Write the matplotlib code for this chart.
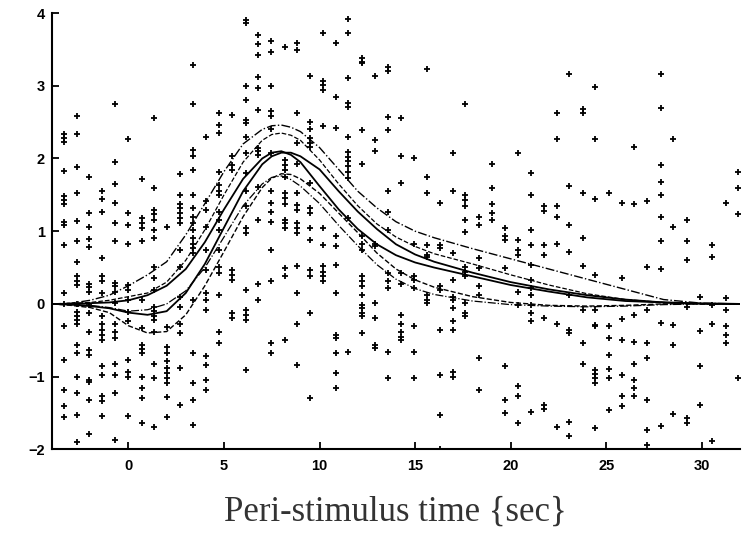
import numpy as np
import matplotlib
matplotlib.use("Agg")
import matplotlib.pyplot as plt

# Streupunkte: Spalten (Zeitpunkt) mit ihren Einzelwerten
col_x = [-3.37, -2.71, -2.06, -1.36, -0.70, 0.0, 0.70, 1.36, 2.03, 2.72, 3.37, 4.07,
         4.76, 5.43, 6.13, 6.77, 7.47, 8.17, 8.81, 9.51, 10.16, 10.85, 11.5, 12.2,
         12.9, 13.6, 14.24, 14.96, 15.6, 16.3, 16.98, 17.63, 18.34, 19.02, 19.72,
         20.38, 21.05, 21.74, 22.41, 23.07, 23.77, 24.43, 25.13, 25.81, 26.48,
         27.16, 27.85, 28.52, 29.21, 29.9, 30.56, 31.26, 31.9]
col_y = [
    [2.34, 2.28, 2.22, 1.83, 1.48, 1.43, 1.37, 1.13, 1.09, 0.81, 0.15, 0.0, -0.31, -0.77, -1.18, -1.41, -1.56],
    [2.59, 2.34, 1.88, 1.52, 1.14, 0.87, 0.57, 0.38, 0.32, 0.26, 0.0, -0.11, -0.17, -0.22, -0.27, -0.56, -0.68, -1.0, -1.23, -1.53, -1.90],
    [1.75, 1.25, 1.06, 0.89, 0.78, 0.28, 0.23, 0.17, -0.01, -0.13, -0.39, -0.64, -0.70, -1.04, -1.08, -1.32, -1.79],
    [1.55, 1.44, 1.27, 0.63, 0.38, 0.32, 0.15, -0.17, -0.27, -0.36, -0.43, -0.49, -0.85, -0.98, -1.27, -1.33, -1.54],
    [2.75, 1.95, 1.65, 1.39, 1.11, 0.87, 0.29, 0.24, 0.17, 0.01, -0.27, -0.39, -0.47, -0.82, -0.98, -1.23, -1.87],
    [2.27, 1.25, 1.09, 0.83, 0.26, 0.19, 0.06, -0.11, -0.24, -0.77, -0.93, -1.00, -1.54],
    [1.72, 1.18, 1.11, 1.04, 0.87, 0.06, -0.33, -0.56, -0.62, -0.68, -1.00, -1.16, -1.30, -1.64],
    [2.55, 1.60, 1.29, 1.24, 1.15, 1.02, 0.90, 0.51, 0.35, 0.19, -0.04, -0.10, -0.17, -0.22, -0.38, -0.82, -1.02, -1.69],
    [1.06, -0.32, -0.59, -0.67, -0.79, -0.88, -0.95, -1.02, -1.09, -1.28, -1.55],
    [1.79, 1.50, 1.38, 1.32, 1.25, 1.18, 1.11, 0.74, 0.51, 0.10, -0.04, -0.27, -0.40, -0.88, -1.39],
    [3.29, 2.75, 2.12, 2.03, 1.84, 1.50, 1.32, 1.20, 1.11, 1.02, 0.90, 0.83, 0.77, 0.70, 0.06, -0.68, -1.09, -1.32, -1.66],
    [2.30, 1.41, 1.29, 1.06, 0.74, 0.47, 0.15, 0.06, -0.08, -0.72, -0.84, -1.04, -1.18],
    [2.62, 2.46, 2.35, 1.82, 1.64, 1.55, 1.50, 1.27, 1.16, 1.02, 0.74, 0.51, 0.42, 0.12, -0.38, -0.54],
    [2.60, 2.03, 1.91, 1.84, 0.47, 0.40, 0.33, -0.13, -0.20],
    [3.91, 3.86, 2.99, 2.80, 2.53, 2.49, 2.30, 2.08, 1.80, 1.55, 1.34, 1.04, 0.97, 0.19, -0.08, -0.15, -0.22, -0.91],
    [3.70, 3.57, 3.42, 3.12, 2.97, 2.67, 2.14, 2.10, 2.05, 1.61, 1.15, 0.27, 0.06],
    [3.61, 3.46, 2.99, 2.65, 2.58, 2.40, 2.07, 1.55, 1.39, 1.27, 1.13, 0.74, 0.31, -0.54, -0.68],
    [3.54, 1.98, 1.91, 1.84, 1.75, 1.52, 1.45, 1.38, 1.16, 1.11, 1.04, 0.49, 0.38, -0.50],
    [3.59, 3.49, 2.62, 2.21, 1.93, 1.52, 1.36, 1.29, 1.11, 1.04, 0.97, 0.52, 0.15, -0.27, -0.84],
    [3.13, 2.50, 2.40, 2.28, 2.21, 2.16, 1.66, 1.32, 1.25, 1.04, 0.88, 0.47, 0.38, -0.13, -1.30],
    [3.72, 3.07, 3.01, 2.94, 2.44, 1.04, 0.81, 0.52, 0.44, 0.38, 0.31],
    [3.59, 2.84, 2.42, 0.93, 0.79, 0.54, 0.15, -0.43, -0.47, -0.67, -0.95, -1.16],
    [3.92, 3.73, 3.10, 2.76, 2.71, 2.29, 2.09, 2.02, 1.96, 1.89, 1.82, 1.73, 1.18, -0.66],
    [3.38, 3.33, 3.31, 2.39, 1.93, 0.93, 0.83, 0.74, 0.38, 0.31, 0.24, 0.12, -0.01, -0.06, -0.13, -0.17, -0.40],
    [3.13, 2.25, 2.10, 0.83, 0.79, 0.01, -0.20, -0.56, -0.61],
    [3.26, 3.20, 2.57, 2.39, 1.55, 1.27, 1.02, 0.42, 0.31, 0.22, -0.66, -1.02],
    [2.55, 2.03, 1.66, 0.42, 0.28, -0.15, -0.27, -0.38, -0.45, -0.50],
    [2.00, 0.83, 0.38, 0.33, 0.22, -0.31, -0.66, -1.02],
    [3.23, 1.75, 1.52, 0.81, 0.67, 0.65, 0.12, 0.06, 0.01],
    [1.39, 0.81, 0.77, 0.24, 0.19, -0.36, -0.98, -1.53, -1.99],
    [2.08, 1.55, 0.70, 0.33, 0.10, 0.06, -0.06, -0.24, -0.36, -0.93, -1.00],
    [2.75, 1.50, 1.43, 1.34, 1.16, 0.99, 0.51, 0.44, 0.38, 0.01, -0.13, -0.17],
    [1.20, 1.09, 0.63, 0.49, 0.24, 0.12, -0.75, -1.18],
    [1.93, 1.59, 1.38, 1.25, 1.16],
    [1.04, 0.93, 0.88, 0.49, -0.86, -1.32, -1.50],
    [2.08, 0.88, 0.74, 0.67, 0.17, -0.01, -1.13, -1.27, -1.64],
    [1.80, 1.50, 1.02, 0.81, 0.54, 0.33, 0.22, 0.12, -0.01, -0.13, -0.24, -1.48],
    [1.34, 1.28, 0.81, 0.67, -0.20, -1.39, -1.45],
    [2.62, 2.27, 1.34, 1.19, 0.83, -0.27, -1.69],
    [3.16, 1.62, 1.09, 0.71, 0.12, -0.36, -0.40, -1.62, -1.82],
    [2.68, 2.62, 1.52, 0.90, 0.52, -0.08, -0.54, -0.83],
    [2.98, 2.27, 1.44, 0.40, -0.08, -0.29, -0.31, -0.91, -0.96, -1.02, -1.09, -1.71],
    [1.53, -0.31, -0.47, -0.70, -0.90, -1.02, -1.46],
    [1.39, 0.35, -0.21, -0.50, -0.98, -1.27, -1.40],
    [2.16, 1.37, -0.15, -0.52, -0.82, -1.05, -1.16, -1.27],
    [1.41, 0.51, -0.08, -0.54, -0.75, -1.32, -1.73, -1.94],
    [3.16, 2.69, 1.91, 1.68, 1.50, 1.19, 0.87, 0.48, -0.26, -1.68],
    [2.27, 1.06, -0.29, -0.56, -1.51],
    [1.16, 0.87, 0.61, -0.04, -1.57, -1.64],
    [0.10, -0.37, -0.85, -1.39],
    [0.81, 0.65, -0.01, -0.27, -1.89],
    [1.39, 0.08, -0.08, -0.31, -0.43, -0.54],
    [1.81, 1.59, 1.24, -1.02],
]

# Angepasste Antworten und Konfidenzgrenzen
t_fit = [-4, -3, -2, -1, 0, 1, 2, 3, 4, 5, 6, 7, 7.5, 8, 8.5, 9, 10, 11, 12, 13, 14,
         15, 16, 18, 20, 22, 24, 26, 28, 30, 32]
fit_early = [0, 0, 0.01, 0.02, 0.05, 0.12, 0.25, 0.48, 0.85, 1.3, 1.72, 2.0, 2.08, 2.1,
             2.05, 1.95, 1.62, 1.3, 1.03, 0.82, 0.67, 0.57, 0.5, 0.38, 0.26, 0.17, 0.09,
             0.04, 0.02, 0.005, 0]
fit_late = [0, -0.01, -0.03, -0.06, -0.12, -0.15, -0.1, 0.15, 0.55, 1.05, 1.55, 1.92,
            2.03, 2.08, 2.08, 2.03, 1.85, 1.55, 1.27, 1.03, 0.82, 0.68, 0.58, 0.43, 0.3,
            0.2, 0.12, 0.06, 0.02, 0.005, 0]
ci_upper_outer = [0, 0.01, 0.05, 0.12, 0.25, 0.4, 0.58, 0.95, 1.38, 1.82, 2.2, 2.4, 2.45,
                  2.46, 2.43, 2.37, 2.15, 1.85, 1.55, 1.32, 1.13, 1.0, 0.91, 0.76, 0.62,
                  0.48, 0.34, 0.2, 0.06, 0.01, 0]
ci_upper_inner = [0, 0.01, 0.02, 0.05, 0.1, 0.15, 0.3, 0.6, 1.02, 1.5, 1.95, 2.25, 2.33,
                  2.35, 2.32, 2.25, 1.98, 1.65, 1.35, 1.1, 0.92, 0.79, 0.69, 0.55, 0.4,
                  0.26, 0.14, 0.06, 0.02, 0, 0]
ci_lower_early = [0, -0.01, -0.02, -0.05, -0.1, -0.08, 0.0, 0.18, 0.5, 0.92, 1.35, 1.65,
                  1.74, 1.76, 1.71, 1.62, 1.38, 1.08, 0.8, 0.54, 0.34, 0.21, 0.13, 0.04,
                  -0.01, -0.03, -0.04, -0.03, -0.01, 0, 0]
ci_lower_late = [0, -0.02, -0.05, -0.12, -0.3, -0.4, -0.38, -0.15, 0.25, 0.72, 1.2, 1.6,
                 1.73, 1.79, 1.78, 1.72, 1.52, 1.25, 0.98, 0.7, 0.48, 0.33, 0.23, 0.1,
                 0.02, -0.02, -0.03, -0.02, 0, 0, 0]

fig = plt.figure(figsize=(7.44, 5.44), dpi=100)
ax = fig.add_axes([0.0699, 0.174, 0.9247, 0.802])

for x, ys in zip(col_x, col_y):
    ax.plot([x] * len(ys), ys, '+', color='black', markersize=4, markeredgewidth=1.3)

ax.plot(t_fit, fit_early, '-', color='black', linewidth=1.3)
ax.plot(t_fit, fit_late, '-', color='black', linewidth=1.3)
ax.plot(t_fit, ci_upper_outer, '-.', color='black', linewidth=1.0)
ax.plot(t_fit, ci_upper_inner, '--', color='black', linewidth=0.9)
ax.plot(t_fit, ci_lower_early, '-.', color='black', linewidth=0.9)
ax.plot(t_fit, ci_lower_late, '--', color='black', linewidth=1.0)

ax.set_xlim(-4, 32)
ax.set_ylim(-2, 4)
ax.set_xticks([0, 5, 10, 15, 20, 25, 30])
ax.set_yticks([-2, -1, 0, 1, 2, 3, 4])
for side in ['top', 'right']:
    ax.spines[side].set_visible(False)
for side in ['left', 'bottom']:
    ax.spines[side].set_linewidth(1.5)
ax.tick_params(direction='in', length=5, width=1.3, labelsize=10.5)
ax.tick_params(axis='x', pad=7)
ax.tick_params(axis='y', pad=5)
for lab in ax.get_xticklabels() + ax.get_yticklabels():
    lab.set_fontweight('bold')
    lab.set_family('Liberation Sans')

fig.text(0.532, 0.058, 'Peri-stimulus time {sec}', ha='center', va='center',
         family='Liberation Serif', fontsize=25, color='#333333')

fig.savefig('out.png', dpi=100)
